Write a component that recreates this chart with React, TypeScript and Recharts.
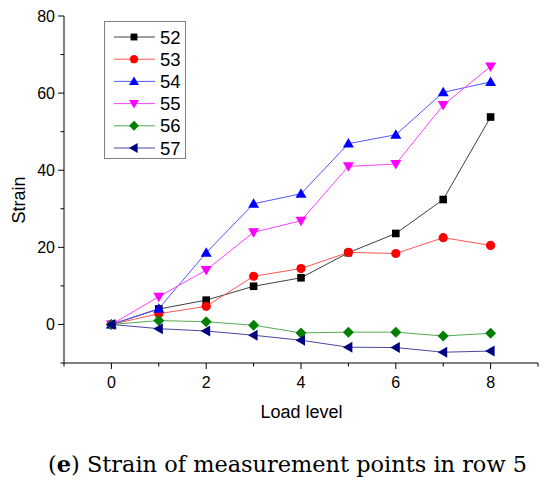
import React from 'react';
import { LineChart, Line, XAxis, YAxis, Legend } from 'recharts';

const levels = [0, 1, 2, 3, 4, 5, 6, 7, 8];
const p52 = [0, 4.0, 6.3, 9.9, 12.1, 18.6, 23.6, 32.4, 53.8];
const p53 = [0, 2.8, 4.7, 12.5, 14.5, 18.7, 18.4, 22.5, 20.5];
const p54 = [0, 4.1, 18.6, 31.3, 33.9, 46.9, 49.2, 60.2, 62.9];
const p55 = [0, 7.2, 14.1, 23.9, 26.9, 41.0, 41.6, 56.9, 66.9];
const p56 = [0, 1.0, 0.7, -0.2, -2.2, -2.0, -2.0, -3.0, -2.3];
const p57 = [0, -1.1, -1.7, -2.8, -4.1, -5.9, -6.0, -7.2, -6.9];

const xTicks = [-1, 0, 1, 2, 3, 4, 5, 6, 7, 8, 9];
const xTickLabels = [0, 2, 4, 6, 8];
const yTicks = [-10, 0, 10, 20, 30, 40, 50, 60, 70, 80];
const yTickLabels = [0, 20, 40, 60, 80];

const xTitle = 'Load level';
const yTitle = 'Strain';

type Shape = 'square' | 'circle' | 'up' | 'down' | 'diamond' | 'left';

const series: { key: string; name: string; values: number[]; color: string; line: string; shape: Shape }[] = [
  { key: 's52', name: '52', values: p52, color: '#000000', line: '#404040', shape: 'square' },
  { key: 's53', name: '53', values: p53, color: '#ff0000', line: '#ff5555', shape: 'circle' },
  { key: 's54', name: '54', values: p54, color: '#0000ff', line: '#5555ff', shape: 'up' },
  { key: 's55', name: '55', values: p55, color: '#ff00ff', line: '#ff40ff', shape: 'down' },
  { key: 's56', name: '56', values: p56, color: '#007f00', line: '#55aa55', shape: 'diamond' },
  { key: 's57', name: '57', values: p57, color: '#000080', line: '#4848a0', shape: 'left' },
];

const data = levels.map((l, i) => {
  const row: Record<string, number> = { level: l };
  series.forEach((s) => {
    row[s.key] = s.values[i];
  });
  return row;
});

const FONT = '"Liberation Sans", Arial, sans-serif';

function Marker({ shape, cx, cy, color, k = 1 }: { shape: Shape; cx: number; cy: number; color: string; k?: number }) {
  const a = 5.5 * k;
  const b = 4 * k;
  switch (shape) {
    case 'square':
      return <rect x={cx - 3.8 * k} y={cy - 3.8 * k} width={7.6 * k} height={7.6 * k} fill={color} />;
    case 'circle':
      return <circle cx={cx} cy={cy} r={4.6 * k} fill={color} />;
    case 'up':
      return <polygon points={`${cx},${cy - a} ${cx + a},${cy + b} ${cx - a},${cy + b}`} fill={color} />;
    case 'down':
      return <polygon points={`${cx},${cy + a} ${cx + a},${cy - b} ${cx - a},${cy - b}`} fill={color} />;
    case 'diamond':
      return <polygon points={`${cx},${cy - a} ${cx + a},${cy} ${cx},${cy + a} ${cx - a},${cy}`} fill={color} />;
    case 'left':
      return <polygon points={`${cx - a},${cy} ${cx + b},${cy - a} ${cx + b},${cy + a}`} fill={color} />;
  }
  return null;
}

function XTick(props: any) {
  const { x, y, payload } = props;
  const v = payload.value;
  const major = xTickLabels.includes(v);
  return (
    <g>
      <line x1={x} x2={x} y1={y} y2={y + (major ? 6 : 3.5)} stroke="#000" strokeWidth={1} />
      {major && (
        <text x={x} y={y + 24.5} textAnchor="middle" fontFamily={FONT} fontSize={16} fill="#000">
          {v}
        </text>
      )}
    </g>
  );
}

function YTick(props: any) {
  const { x, y, payload } = props;
  const v = payload.value;
  const major = yTickLabels.includes(v);
  return (
    <g>
      <line x1={x - (major ? 6 : 3.5)} x2={x} y1={y} y2={y} stroke="#000" strokeWidth={1} />
      {major && (
        <text x={x - 9} y={y} dy="0.36em" textAnchor="end" fontFamily={FONT} fontSize={16} fill="#000">
          {v}
        </text>
      )}
    </g>
  );
}

function LegendBox() {
  const w = 82;
  const h = 138;
  return (
    <svg width={w} height={h} style={{ display: 'block' }}>
      <rect x={0.5} y={0.5} width={w - 1} height={h - 1} fill="#fff" stroke="#808080" strokeWidth={1} />
      {series.map((s, i) => {
        const cy = 16 + i * 22.2;
        return (
          <g key={s.key}>
            <line x1={10} x2={51} y1={cy} y2={cy} stroke={s.line} strokeWidth={1} />
            <Marker shape={s.shape} cx={30} cy={cy} color={s.color} k={0.9} />
            <text x={56} y={cy} dy="0.36em" fontFamily={FONT} fontSize={18.5} fill="#000">
              {s.name}
            </text>
          </g>
        );
      })}
    </svg>
  );
}

export default function App() {
  return (
    <div style={{ position: 'absolute', left: 0, top: 0, width: 550, height: 489, background: '#fff' }}>
      <LineChart width={550} height={489} data={data} margin={{ top: 16, right: 12, left: 0, bottom: 96 }}>
        <XAxis
          type="number"
          dataKey="level"
          domain={[-1, 9]}
          ticks={xTicks}
          interval={0}
          tickSize={0}
          tickMargin={0}
          tickLine={false}
          axisLine={{ stroke: '#000', strokeWidth: 1 }}
          tick={<XTick />}
          height={30}
          allowDataOverflow
        />
        <YAxis
          type="number"
          domain={[-10, 80]}
          ticks={yTicks}
          interval={0}
          tickSize={0}
          tickMargin={0}
          tickLine={false}
          axisLine={{ stroke: '#000', strokeWidth: 1 }}
          tick={<YTick />}
          width={64}
          allowDataOverflow
        />
        <Legend
          layout="vertical"
          align="center"
          verticalAlign="middle"
          content={() => <LegendBox />}
          wrapperStyle={{ position: 'absolute', left: 104, top: 21, width: 82, height: 138 }}
        />
        {series.map((s) => (
          <Line
            key={s.key}
            type="linear"
            dataKey={s.key}
            name={s.name}
            stroke={s.line}
            strokeWidth={1}
            isAnimationActive={false}
            activeDot={false}
            dot={(p: any) => (
              <Marker key={`${s.key}-${p.index}`} shape={s.shape} cx={p.cx} cy={p.cy} color={s.color} />
            )}
          />
        ))}
      </LineChart>
      <svg width={550} height={489} style={{ position: 'absolute', left: 0, top: 0, pointerEvents: 'none' }}>
        <text x={301.5} y={417.5} textAnchor="middle" fontFamily={FONT} fontSize={18} fill="#000">
          {xTitle}
        </text>
        <text
          x={25}
          y={200}
          textAnchor="middle"
          fontFamily={FONT}
          fontSize={18}
          fill="#000"
          transform="rotate(-90, 25, 200)"
        >
          {yTitle}
        </text>
        <text
          x={287.5}
          y={472}
          textAnchor="middle"
          fontFamily='"DejaVu Serif", serif'
          fontSize={22.4}
          fill="#000"
          textLength={479}
          lengthAdjust="spacingAndGlyphs"
        >
          (<tspan fontWeight="bold">e</tspan>) Strain of measurement points in row 5
        </text>
      </svg>
    </div>
  );
}
